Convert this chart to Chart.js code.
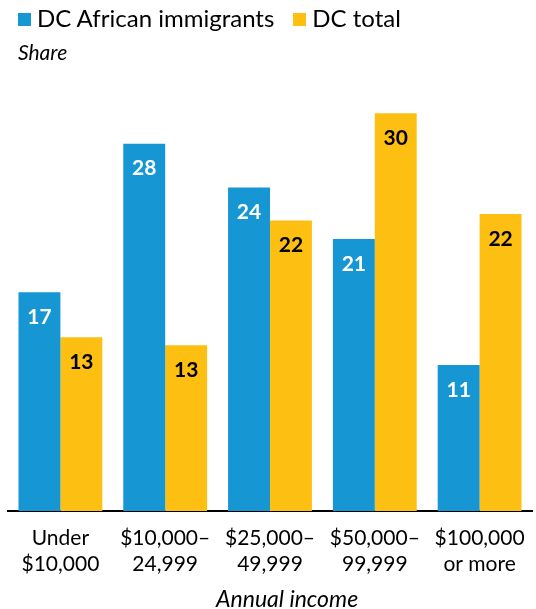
<!DOCTYPE html>
<html>
<head>
<meta charset="utf-8">
<script src="https://cdn.jsdelivr.net/npm/chart.js@4"></script>
<style>
  html, body { margin: 0; padding: 0; background: #fff; }
  body { width: 536px; height: 609px; position: relative; font-family: Lato, sans-serif; color: #000; }
  .legend { position: absolute; left: 18px; top: 3px; font-size: 24px; white-space: nowrap; }
  .legend span.item { display: inline-block; margin-right: 19px; }
  .legend i { display: inline-block; width: 13px; height: 13px; margin-right: 6px; vertical-align: 1px; }
  .share { position: absolute; left: 18px; top: 39px; font-size: 21px; font-style: italic; }
  .xtitle { position: absolute; left: 216px; top: 584px; font-size: 23px; font-style: italic; white-space: nowrap; }
  #wrap { position: absolute; left: 0; top: 0; width: 536px; height: 609px; }
</style>
</head>
<body>
<div id="wrap"><canvas id="incomeChart"></canvas></div>
<div class="legend">
  <span class="item"><i style="background:#1696d2"></i>DC African immigrants</span><span class="item"><i style="background:#fdbf11"></i>DC total</span>
</div>
<div class="share">Share</div>
<div class="xtitle">Annual income</div>
<script>
// Income distribution, share of households
const categories = [['Under', '$10,000'], ['$10,000–', '24,999'], ['$25,000–', '49,999'], ['$50,000–', '99,999'], ['$100,000', 'or more']];
const africanImmigrants = [16.5, 27.7, 24.4, 20.5, 11.0];
const dcTotal = [13.1, 12.5, 21.9, 30.0, 22.4];
const seriesNames = ['DC African immigrants', 'DC total'];

const BLUE = '#1696d2';
const YELLOW = '#fdbf11';

/**
 * Draw rounded values inside the top of each bar
 */
const barValues = {
    id: 'barValues',
    afterDatasetsDraw(chart) {
        const ctx = chart.ctx;
        ctx.save();
        ctx.font = 'bold 21px Lato';
        ctx.textAlign = 'center';
        ctx.textBaseline = 'middle';
        chart.data.datasets.forEach((ds, i) => {
            const meta = chart.getDatasetMeta(i);
            meta.data.forEach((bar, j) => {
                ctx.fillStyle = i === 0 ? '#fff' : '#000';
                ctx.fillText(Math.round(ds.data[j]), bar.x, bar.y + 25);
            });
        });
        ctx.restore();
    }
};

new Chart(document.getElementById('incomeChart'), {
    type: 'bar',
    data: {
        labels: categories,
        datasets: [
            { label: seriesNames[0], data: africanImmigrants, backgroundColor: BLUE },
            { label: seriesNames[1], data: dcTotal, backgroundColor: YELLOW }
        ]
    },
    options: {
        responsive: true,
        maintainAspectRatio: false,
        animation: false,
        layout: { padding: { top: 80, left: 8, right: 4, bottom: 18 } },
        datasets: {
            bar: { categoryPercentage: 0.8, barPercentage: 1.0 }
        },
        plugins: {
            legend: { display: false },
            tooltip: { enabled: false }
        },
        scales: {
            y: {
                display: false,
                min: 0,
                max: 32.5
            },
            x: {
                // labels fit inside the category slots, no extra side padding
                afterFit(scale) {
                    scale.paddingLeft = 0;
                    scale.paddingRight = 0;
                },
                grid: { display: false, drawTicks: false },
                border: { display: true, color: '#000', width: 2 },
                ticks: {
                    color: '#000',
                    padding: 14,
                    font: { family: 'Lato', size: 21, lineHeight: 1.24 }
                }
            }
        }
    },
    plugins: [barValues]
});
</script>
</body>
</html>
